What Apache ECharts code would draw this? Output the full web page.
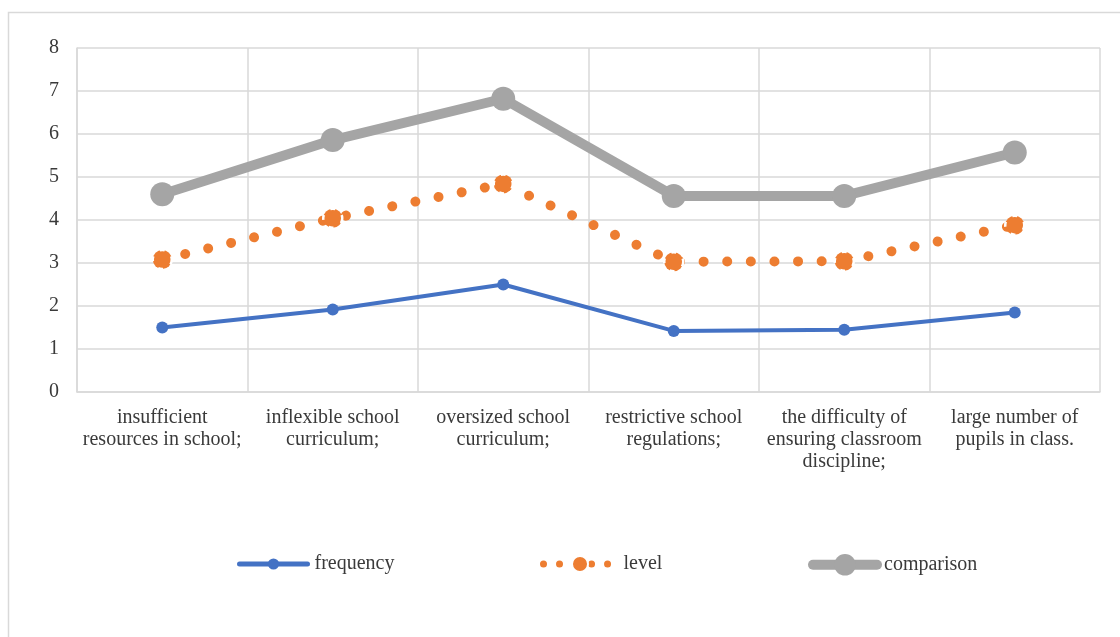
<!DOCTYPE html>
<html>
<head>
<meta charset="utf-8">
<script src="https://cdn.jsdelivr.net/npm/echarts@6/dist/echarts.min.js"></script>
<style>
  html, body { margin: 0; padding: 0; background: #fff; }
  #chart { width: 1120px; height: 637px; }
</style>
</head>
<body>
<div id="chart"></div>
<script>
// Obstacles named by teachers, three measures per obstacle
const categories = [
  'insufficient\nresources in school;',
  'inflexible school\ncurriculum;',
  'oversized school\ncurriculum;',
  'restrictive school\nregulations;',
  'the difficulty of\nensuring classroom\ndiscipline;',
  'large number of\npupils in class.'
];
const frequency  = [1.50, 1.92, 2.50, 1.42, 1.45, 1.85];
const level      = [3.08, 4.04, 4.84, 3.03, 3.04, 3.88];
const comparison = [4.60, 5.86, 6.82, 4.56, 4.56, 5.57];
const yTicks = [0, 1, 2, 3, 4, 5, 6, 7, 8];

const FONT = '"Liberation Serif", "Times New Roman", serif';
const TEXT = '#3a3a3a';
const GRIDLINE = '#d9d9d9';
const BLUE = '#4472C4', ORANGE = '#ED7D31', GREY = '#A5A5A5';

const legendText = { fontFamily: FONT, fontSize: 20, color: TEXT, padding: [3, 0, 0, 2] };

// one legend block per series so each icon can carry its own marker size
function legendBlock(name, left, itemWidth, itemHeight, lineStyle) {
  return {
    left: left,
    top: 549,
    itemWidth: itemWidth,
    itemHeight: itemHeight,
    itemGap: 0,
    textStyle: legendText,
    data: [{ name: name, lineStyle: lineStyle }]
  };
}

const chart = echarts.init(document.getElementById('chart'));
chart.setOption({
  animation: false,
  backgroundColor: '#ffffff',
  textStyle: { fontFamily: FONT, color: TEXT },
  graphic: [{
    type: 'rect',
    shape: { x: 8.5, y: 12.5, width: 1200, height: 700 },
    style: { fill: 'none', stroke: '#d9d9d9', lineWidth: 1.5 },
    silent: true,
    z: -1
  }],
  grid: { left: 77, right: 20, top: 48, bottom: 245, containLabel: false },
  xAxis: {
    type: 'category',
    data: categories,
    boundaryGap: true,
    axisLine: { show: true, lineStyle: { color: GRIDLINE, width: 1.5 } },
    axisTick: { show: false },
    splitLine: { show: true, lineStyle: { color: GRIDLINE, width: 1.5 } },
    axisLabel: {
      interval: 0,
      margin: 15,
      fontFamily: FONT,
      fontSize: 20,
      lineHeight: 22,
      color: TEXT,
      align: 'center'
    }
  },
  yAxis: {
    type: 'value',
    min: yTicks[0],
    max: yTicks[yTicks.length - 1],
    interval: 1,
    axisLine: { show: true, lineStyle: { color: GRIDLINE, width: 1.5 } },
    axisTick: { show: false },
    splitLine: { show: true, lineStyle: { color: GRIDLINE, width: 1.5 } },
    axisLabel: {
      margin: 18,
      fontFamily: FONT,
      fontSize: 20,
      color: TEXT
    }
  },
  legend: [
    legendBlock('frequency', 232, 68, 14, { width: 5, cap: 'round' }),
    legendBlock('level', 535, 73, 20, { width: 7, type: [0.01, 16], cap: 'round' }),
    legendBlock('comparison', 803, 64, 27, { width: 10, cap: 'round' })
  ],
  series: [
    {
      name: 'comparison',
      type: 'line',
      data: comparison,
      z: 2,
      symbol: 'circle',
      symbolSize: 24,
      lineStyle: { color: GREY, width: 10 },
      itemStyle: { color: GREY }
    },
    {
      name: 'level',
      type: 'line',
      data: level,
      z: 3,
      symbol: 'circle',
      symbolSize: 19,
      lineStyle: { color: ORANGE, width: 10, type: [0.01, 23.6], cap: 'round' },
      itemStyle: { color: ORANGE, borderColor: '#ffffff', borderWidth: 2.5, borderType: [5, 9] }
    },
    {
      name: 'frequency',
      type: 'line',
      data: frequency,
      z: 4,
      symbol: 'circle',
      symbolSize: 12,
      lineStyle: { color: BLUE, width: 4 },
      itemStyle: { color: BLUE }
    }
  ]
});
</script>
</body>
</html>
